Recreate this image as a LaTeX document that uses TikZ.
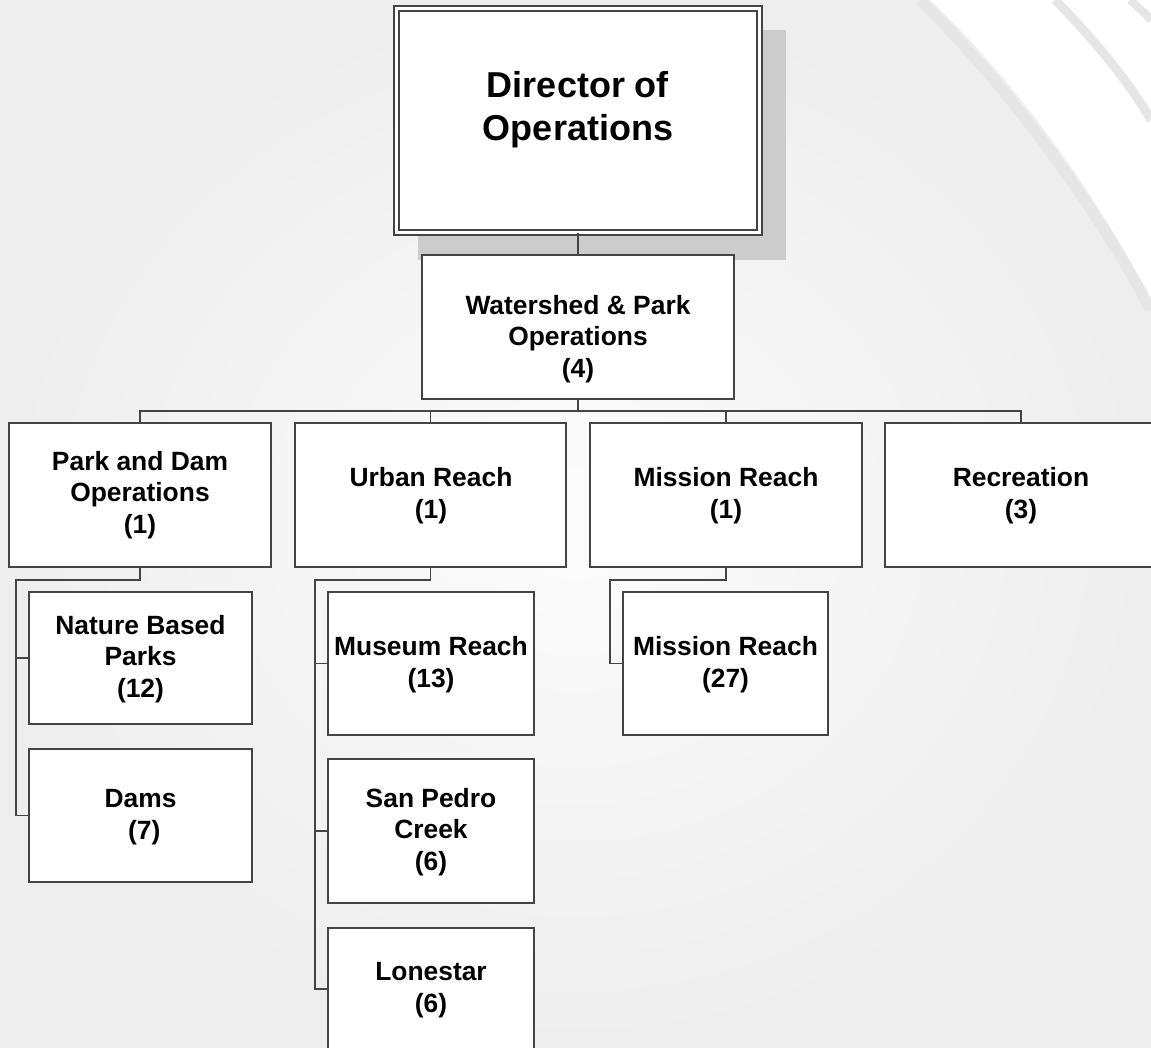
\documentclass[tikz,border=0pt]{standalone}
\usepackage{fontspec}
\setmainfont{Liberation Sans}
\definecolor{lc}{RGB}{68,68,68}
\definecolor{shadowc}{RGB}{204,204,204}
\definecolor{bgin}{RGB}{252,252,252}
\definecolor{bgout}{RGB}{238,238,238}
\definecolor{swoosh}{RGB}{230,230,230}
\definecolor{swooshl}{RGB}{238,238,238}
\tikzset{
  box/.style={draw=lc, line width=1.6pt, fill=white, rectangle, inner sep=0pt},
  dbox/.style={box, double=white, double distance=3.2pt},
  lbl/.style={font=\bfseries\fontsize{26.4}{31.5}\selectfont, align=center, anchor=base, inner sep=0pt, text=black},
  biglbl/.style={lbl, font=\bfseries\fontsize{36}{43}\selectfont},
  conn/.style={draw=lc, line width=1.8pt},
}
\begin{document}
\begin{tikzpicture}[x=1pt, y=-1pt]
\useasboundingbox (0,0) rectangle (1151,1047);
% background
\shade[inner color=bgin, outer color=bgout] (0,0) rectangle (1151,1047);
\fill[white] (930,0) .. controls (1010,75) and (1095,190) .. (1151,300) -- (1151,0) -- cycle;
\draw[swooshl, line width=5pt] (895,8) .. controls (1000,80) and (1100,230) .. (1151,345);
\draw[swoosh, line width=11pt] (920,0) .. controls (1000,78) and (1090,195) .. (1151,310);
\draw[swoosh, line width=9pt] (1055,0) .. controls (1090,35) and (1128,80) .. (1151,120);
\draw[swoosh, line width=8pt] (1130,0) .. controls (1138,7) and (1146,14) .. (1151,20);

% shadow of director
\fill[shadowc] (418,30) rectangle (786,260);

% boxes
\node[dbox, minimum width=363pt, minimum height=224pt] (dir) at (578,120.5) {};
\node[box, minimum width=312pt, minimum height=144pt] (ws) at (578,327) {};
\node[box, minimum width=262pt, minimum height=144pt] (park) at (140,495) {};
\node[box, minimum width=271pt, minimum height=144pt] (urban) at (430.5,495) {};
\node[box, minimum width=272pt, minimum height=144pt] (mission) at (726,495) {};
\node[box, minimum width=272pt, minimum height=144pt] (rec) at (1021,495) {};
\node[box, minimum width=223pt, minimum height=132pt] (nature) at (140.5,658) {};
\node[box, minimum width=223pt, minimum height=133pt] (dams) at (140.5,815.5) {};
\node[box, minimum width=206pt, minimum height=143pt] (museum) at (431,663.5) {};
\node[box, minimum width=206pt, minimum height=144pt] (sanpedro) at (431,831) {};
\node[box, minimum width=206pt, minimum height=122pt] (lone) at (431,989) {};
\node[box, minimum width=205pt, minimum height=143pt] (mr27) at (725.5,663.5) {};

% connectors
\draw[conn] (dir.south) -- (ws.north);
\coordinate (bus) at (578,411);
\draw[conn] (ws.south) -- (bus);
\draw[conn] (park.north) |- (bus);
\draw[conn] (urban.north) |- (bus);
\draw[conn] (mission.north) |- (bus);
\draw[conn] (rec.north) |- (bus);
\draw[conn] (park.south) -- ++(0,12) -| ([xshift=-12pt]dams.west) -- (dams.west);
\draw[conn] (nature.west) -- ++(-12,0);
\draw[conn] (urban.south) -- ++(0,12) -| ([xshift=-12pt]lone.west) -- (lone.west);
\draw[conn] (museum.west) -- ++(-12,0);
\draw[conn] (sanpedro.west) -- ++(-12,0);
\draw[conn] (mission.south) -- ++(0,12) -| ([xshift=-12pt]mr27.west) -- (mr27.west);

% labels (anchor = baseline of last line)
\node[biglbl] (dirT) at (578,140) {Director of\\Operations};
\node[lbl] (wsT) at (578,377) {Watershed \& Park\\Operations\\(4)};
\node[lbl] (parkT) at (140,533) {Park and Dam\\Operations\\(1)};
\node[lbl] (urbanT) at (431,518) {Urban Reach\\(1)};
\node[lbl] (missionT) at (726,518) {Mission Reach\\(1)};
\node[lbl] (recT) at (1021,518) {Recreation\\(3)};
\node[lbl] (natureT) at (140.5,697) {Nature Based\\Parks\\(12)};
\node[lbl] (damsT) at (140.5,839) {Dams\\\hspace*{0.278em}(7)};
\node[lbl] (museumT) at (431,687) {Museum Reach\\(13)};
\node[lbl] (sanpedroT) at (431,870) {San Pedro\\Creek\\(6)};
\node[lbl] (loneT) at (431,1012) {Lonestar\\(6)};
\node[lbl] (mr27T) at (725.5,687) {Mission Reach\\(27)};
\end{tikzpicture}
\end{document}
